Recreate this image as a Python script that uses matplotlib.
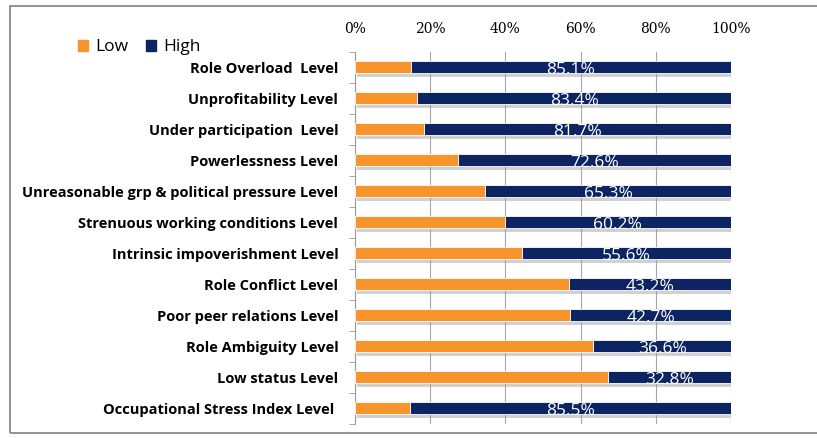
import matplotlib.pyplot as plt
import matplotlib.patheffects as pe
from matplotlib.patches import Rectangle, Patch
import numpy as np

categories = [
    'Role Overload  Level',
    'Unprofitability Level',
    'Under participation  Level',
    'Powerlessness Level',
    'Unreasonable grp & political pressure Level',
    'Strenuous working conditions Level',
    'Intrinsic impoverishment Level',
    'Role Conflict Level',
    'Poor peer relations Level',
    'Role Ambiguity Level',
    'Low status Level',
    'Occupational Stress Index Level ',
]
high = [85.1, 83.4, 81.7, 72.6, 65.3, 60.2, 55.6, 43.2, 42.7, 36.6, 32.8, 85.5]
low = [100 - h for h in high]

orange = '#F7952C'
navy = '#0D2463'

fig = plt.figure(figsize=(8.17, 4.38), dpi=100)
ax = fig.add_axes([0.4345, 0.033, 0.4602, 0.849])

y = np.arange(len(categories))
shadow = [pe.SimplePatchShadow(offset=(1.5, -2.5), shadow_rgbFace='#999999', alpha=0.45), pe.Normal()]
ax.barh(y, low, height=0.4, color=orange, edgecolor='white', linewidth=0.6,
        zorder=3, path_effects=shadow)
ax.barh(y, high, left=low, height=0.4, color=navy, edgecolor='white', linewidth=0.6,
        zorder=3, path_effects=shadow)

for yi, l, h in zip(y, low, high):
    ax.text(l + h / 2, yi + 0.1, f'{h:.1f}%', color='white', fontsize=12.5,
            ha='center', va='center', zorder=4, family='Open Sans')

ax.set_ylim(len(categories) - 0.5, -0.5)
ax.set_xlim(0, 100)
ax.set_yticks(y)
ax.set_yticklabels(categories, fontsize=10.5, fontweight='bold', family='Open Sans')
ax.set_yticks(np.arange(-0.5, len(categories), 1), minor=True)
ax.tick_params(axis='y', which='major', length=0, pad=12)
ax.tick_params(axis='y', which='minor', length=4, color='#999999')

ax.xaxis.tick_top()
ax.set_xticks([0, 20, 40, 60, 80, 100])
ax.set_xticklabels(['0%', '20%', '40%', '60%', '80%', '100%'], fontsize=10, family='DejaVu Serif')
ax.tick_params(axis='x', length=0, pad=11)
ax.grid(axis='x', color='#A6A6A6', linewidth=0.8, zorder=0)

for s in ['top', 'right', 'bottom']:
    ax.spines[s].set_visible(False)
ax.spines['left'].set_color('#999999')

handles = [Patch(color=orange), Patch(color=navy)]
fig.legend(handles=handles, labels=['Low', 'High'], loc='center left',
           bbox_to_anchor=(0.076, 0.892), ncol=2, frameon=False,
           handlelength=0.6, handleheight=0.6, handletextpad=0.4, columnspacing=1.0,
           prop={'family': 'Open Sans', 'size': 12.5})

fig.patches.append(Rectangle((0.012, 0.012), 0.99, 0.975, transform=fig.transFigure,
                             fill=False, edgecolor='#808080', linewidth=1.2))

fig.savefig('out.png', dpi=100)
